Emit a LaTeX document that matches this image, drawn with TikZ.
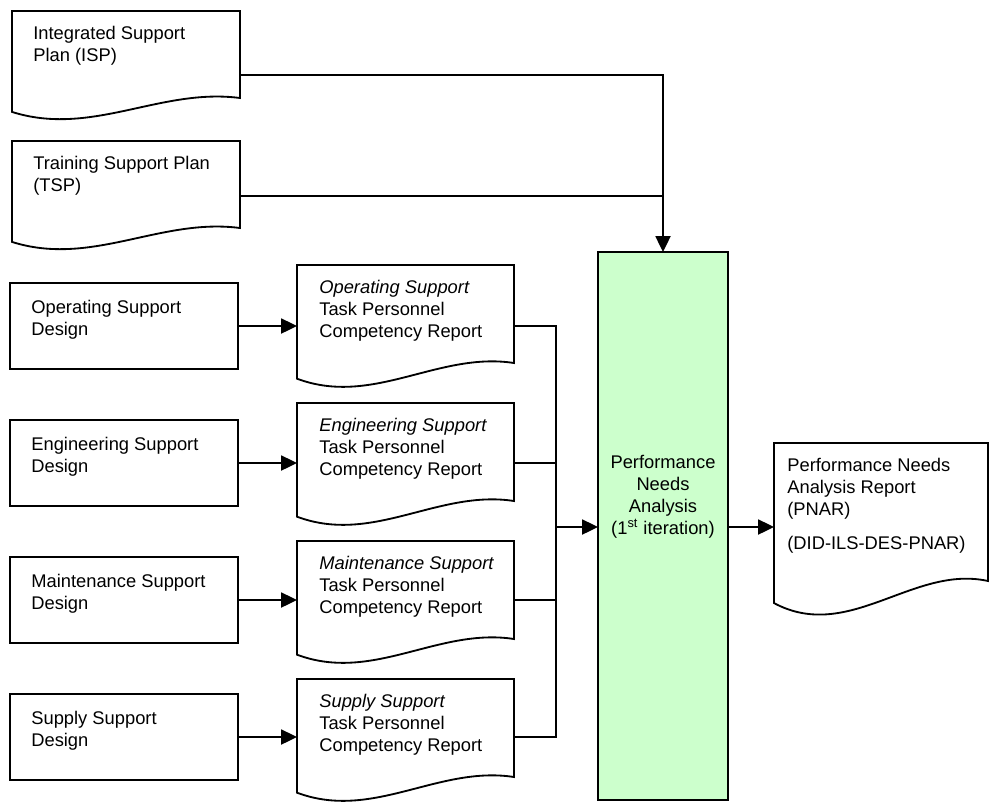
\documentclass[tikz,border=0pt]{standalone}
\usepackage{fontspec}
\setmainfont{Liberation Sans}
\usetikzlibrary{arrows.meta,calc}
\definecolor{pnagreen}{HTML}{CCFFCC}
\newcommand\boxnode[6]{%
  \node[box, minimum width={(#4-#2)*0.6pt}, minimum height={(#5-#3)*0.6pt}] (#1) at ({(#2+#4)/2},{(#3+#5)/2}) {};
  \node[lbl] (#1-t) at ({#2+21},{#3+17}) {#6};
}
\newcommand\docnode[7]{%
  \pgfmathsetmacro\mydw{#4-#2}%
  \pgfmathsetmacro\mydh{#5-#3}%
  \node[ghost, minimum width={\mydw*0.6pt}, minimum height={\mydh*0.6pt}] (#1) at ({(#2+#4)/2},{(#3+#5)/2}) {};
  \draw[docline] (#1.south east) -- (#1.north east) -- (#1.north west) -- ({#2},{#5+0.16*\mydh})
     .. controls ({#2+0.35*\mydw},{#5+0.45*\mydh}) and ({#2+0.65*\mydw},{#5-0.12*\mydh}) .. (#1.south east) -- cycle;
  \node[lbl] (#1-t) at ({#2+#6},{#3+15}) {#7};
}
\begin{document}
\begin{tikzpicture}[x=0.6pt,y=-0.6pt,
  every node/.style={font=\fontsize{11}{13.2}\selectfont},
  box/.style={draw, line width=1.1pt, rectangle, inner sep=0pt, outer sep=0pt},
  ghost/.style={draw=none, rectangle, inner sep=0pt, outer sep=0pt},
  docline/.style={line width=1.1pt, line join=miter},
  lbl/.style={anchor=north west, inner sep=0pt, align=left},
  conn/.style={line width=1.1pt},
  arr/.style={conn, -{Triangle[length=9.5pt,width=9pt]}}]
\useasboundingbox (0,0) rectangle (990,802);

% top documents
\docnode{isp}{12}{11}{240}{98}{21}{Integrated Support\\Plan (ISP)}
\docnode{tsp}{12}{141}{240}{228}{21}{Training Support Plan\\(TSP)}

% central process
\node[box, fill=pnagreen, minimum width={130*0.6pt}, minimum height={548*0.6pt}] (pna) at (663,526) {};
\node[anchor=north, align=center, inner sep=0pt] (pna-t) at (663,455) {Performance\\Needs\\Analysis\\(1\textsuperscript{st} iteration)};

% design boxes
\boxnode{opd}{10}{283}{238}{369}{Operating Support\\Design}
\boxnode{end}{10}{420}{238}{506}{Engineering Support\\Design}
\boxnode{mad}{10}{557}{238}{643}{Maintenance Support\\Design}
\boxnode{sud}{10}{694}{238}{780}{Supply Support\\Design}

% report documents
\docnode{opr}{297}{265}{514}{363}{22}{{\itshape Operating Support}\\Task Personnel\\Competency Report}
\docnode{enr}{297}{403}{514}{501}{22}{{\itshape Engineering Support}\\Task Personnel\\Competency Report}
\docnode{mar}{297}{541}{514}{639}{22}{{\itshape Maintenance Support}\\Task Personnel\\Competency Report}
\docnode{sur}{297}{679}{514}{777}{22}{{\itshape Supply Support}\\Task Personnel\\Competency Report}

% output document
\docnode{pnar}{774}{443}{988}{581}{13}{Performance Needs\\Analysis Report\\(PNAR)\\[7.2pt](DID-ILS-DES-PNAR)}

% connectors
\coordinate (ispO) at (240,75);
\coordinate (tspO) at (240,196);
\coordinate (bus) at (556,527);
\draw[arr] (ispO) -| (pna.north);
\draw[conn] (tspO) -- (tspO -| pna.north);

\foreach \d/\r in {opd/opr, end/enr, mad/mar, sud/sur}{
  \draw[arr] (\d.east) -- (\d.east -| \r.west);
  \draw[conn] (\d.east -| \r.east) -| (bus);
}
\draw[arr] (bus) -- (bus -| pna.west);
\draw[arr] (bus -| pna.east) -- (bus -| pnar.west);
\end{tikzpicture}
\end{document}
